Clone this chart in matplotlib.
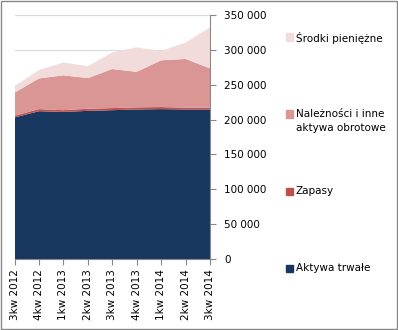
import numpy as np
import matplotlib
matplotlib.use("Agg")
import matplotlib.pyplot as plt
from matplotlib.patches import Rectangle
from matplotlib.ticker import FuncFormatter

quarters = ["3kw 2012", "4kw 2012", "1kw 2013", "2kw 2013", "3kw 2013",
            "4kw 2013", "1kw 2014", "2kw 2014", "3kw 2014"]
aktywa_trwale = [203000, 212000, 211000, 212500, 213500, 214500, 215000, 214500, 214500]
zapasy = [2500, 3000, 2500, 3000, 3000, 3000, 3000, 2500, 2500]
naleznosci = [33000, 44000, 50000, 44000, 56000, 51000, 67000, 70000, 56500]
srodki = [9500, 12000, 18500, 17000, 24000, 35000, 13500, 23500, 58500]

names = ["Aktywa trwałe", "Zapasy", "Należności i inne\naktywa obrotowe", "Środki pieniężne"]
colors = ["#17375E", "#C0504D", "#D99694", "#F2DCDB"]

plt.rcParams['font.family'] = ['DejaVu Sans']
fig = plt.figure(figsize=(3.98, 3.30), dpi=100)
ax = fig.add_axes([14.5 / 398, 1 - 259 / 330, (210 - 14.5) / 398, (259 - 15) / 330])

x = np.arange(len(quarters))
ax.stackplot(x, aktywa_trwale, zapasy, naleznosci, srodki, colors=colors, linewidth=0)

ax.set_xlim(0, len(quarters) - 1)
ax.set_ylim(0, 350000)
ax.set_yticks(np.arange(0, 350001, 50000))
ax.yaxis.set_major_formatter(FuncFormatter(lambda v, p: f"{int(v):,}".replace(",", " ")))
ax.yaxis.tick_right()
ax.grid(axis='y', color='#D9D9D9', linewidth=0.8)
ax.set_axisbelow(True)
ax.set_xticks(x)
ax.set_xticklabels(quarters, rotation=90, fontsize=7.5)
ax.tick_params(axis='y', labelsize=7.5, length=4, color='#888888', pad=6)
ax.tick_params(axis='x', length=4, color='#888888', pad=3)
for s in ['top', 'left']:
    ax.spines[s].set_visible(False)
for s in ['right', 'bottom']:
    ax.spines[s].set_color('#888888')

# legend on the right, entries spread top to bottom
legend_y = [268, 191, 114, 37]
for name, col, py in zip(names, colors, legend_y):
    fy = 1 - py / 330
    fig.patches.append(Rectangle((286 / 398, fy - 3.5 / 330), 7 / 398, 7 / 330,
                                 transform=fig.transFigure, color=col))
    fig.text(296 / 398, fy + 5 / 330, name, fontsize=7.5, va='top', ha='left',
             linespacing=1.5)

fig.patches.append(Rectangle((1 / 398, 1 / 330), 396 / 398, 328 / 330, transform=fig.transFigure,
                             fill=False, edgecolor='#888888', linewidth=1))
fig.savefig("out.png", dpi=100)
